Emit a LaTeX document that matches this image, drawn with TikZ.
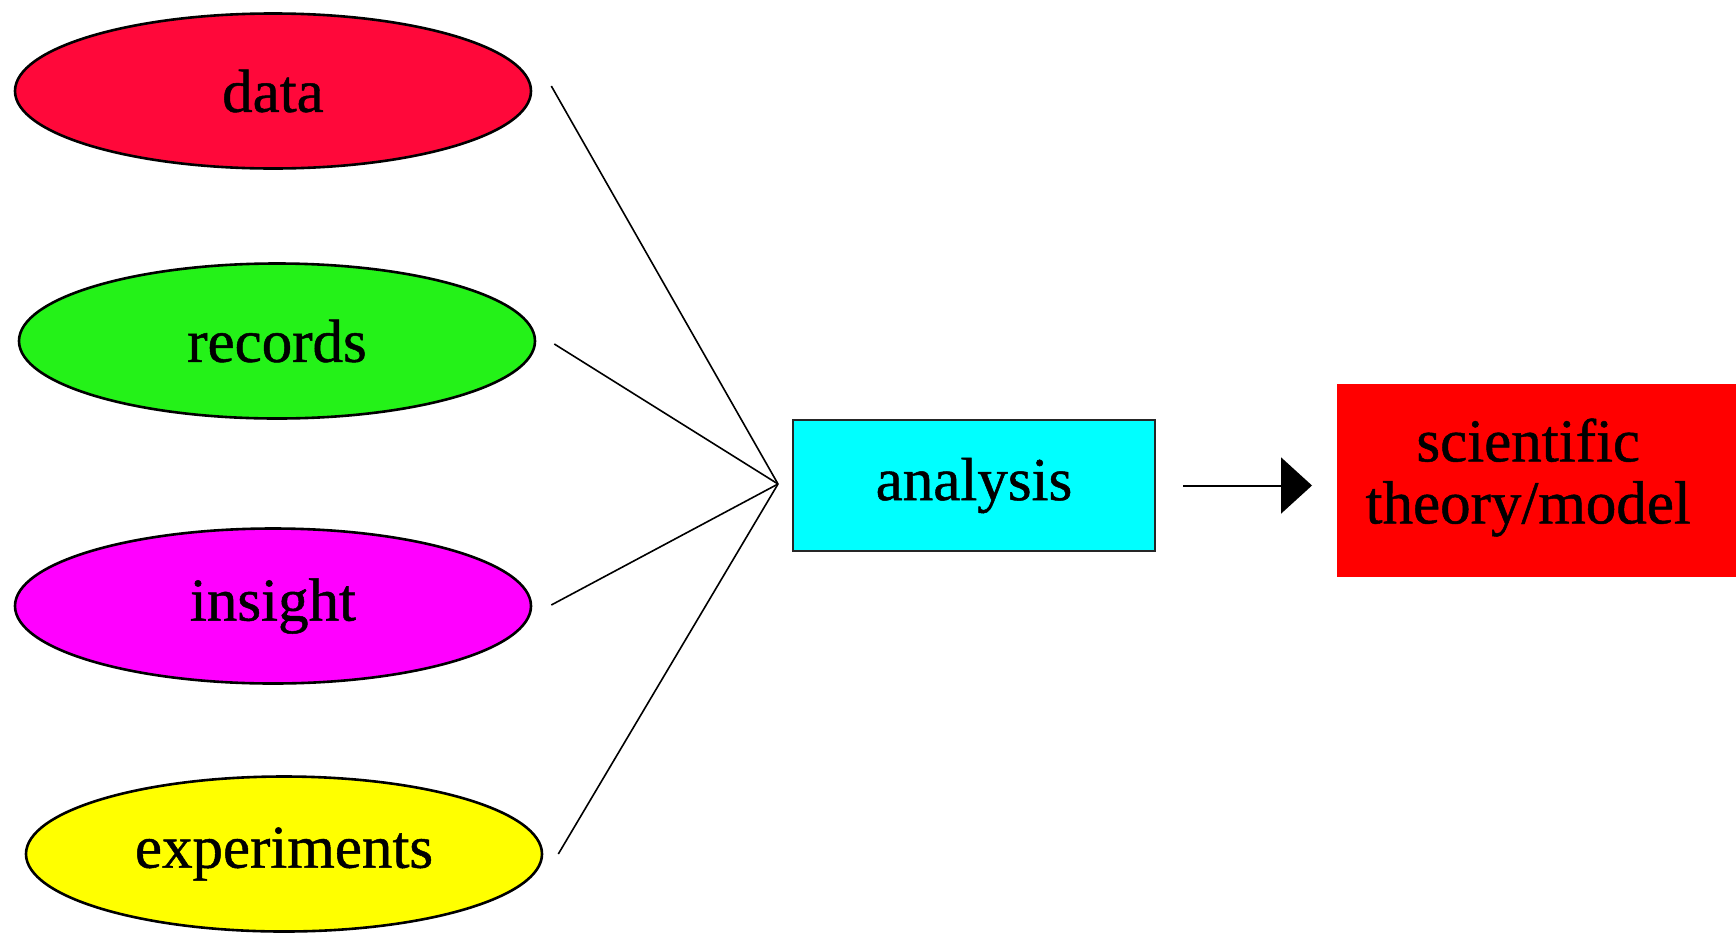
\documentclass[tikz,border=0pt]{standalone}
\usepackage{fontspec}
\setmainfont{Liberation Serif}
\newfontfamily\heavyserif[FakeBold=0.8]{Liberation Serif}
\usetikzlibrary{shapes.geometric,arrows.meta}
\definecolor{cdata}{RGB}{255,8,58}
\definecolor{crec}{RGB}{36,242,24}
\definecolor{cins}{RGB}{255,0,255}
\definecolor{cexp}{RGB}{255,255,0}
\definecolor{cana}{RGB}{0,255,255}
\definecolor{cthe}{RGB}{255,0,0}
\begin{document}
\begin{tikzpicture}[x=1pt,y=-1pt,
  every node/.style={font=\heavyserif\fontsize{61}{62}\selectfont, inner sep=0pt},
  oval/.style={ellipse, draw=black, line width=2.6pt, minimum width=516pt, minimum height=155pt},
  abox/.style={rectangle, draw=black!85, line width=2.4pt, minimum width=362pt, minimum height=131pt},
  tbox/.style={rectangle, fill=cthe, minimum width=440pt, minimum height=193pt, anchor=west},
  link/.style={line width=1.6pt, black}]
\useasboundingbox (0,0) rectangle (1736,932);
\fill[white] (0,0) rectangle (1736,932);
\node[oval, fill=cdata] (data) at (273,91) {data};
\node[oval, fill=crec] (records) at (277,341) {records};
\node[oval, fill=cins] (insight) at (273,606) {insight};
\node[oval, fill=cexp] (exp) at (284,854) {experiments};
\node[abox, fill=cana] (analysis) at (974,485.5) {analysis};
\node[tbox] (theory) at (1337,480) {\begin{tabular}{@{}c@{}}scientific\\theory/model\end{tabular}\rule{58pt}{0pt}};
\coordinate (hub) at (778,484);
\draw[link] ([shift={(19,-5)}]data.east) -- (hub);
\draw[link] ([shift={(18,3)}]records.east) -- (hub);
\draw[link] ([shift={(19,-1)}]insight.east) -- (hub);
\draw[link] ([shift={(15,0)}]exp.east) -- (hub);
\draw[line width=2pt, -{Triangle[length=31pt,width=56pt]}] ([xshift=27pt]analysis.east) -- ([xshift=-25pt]theory.west |- analysis.east);
\end{tikzpicture}
\end{document}
